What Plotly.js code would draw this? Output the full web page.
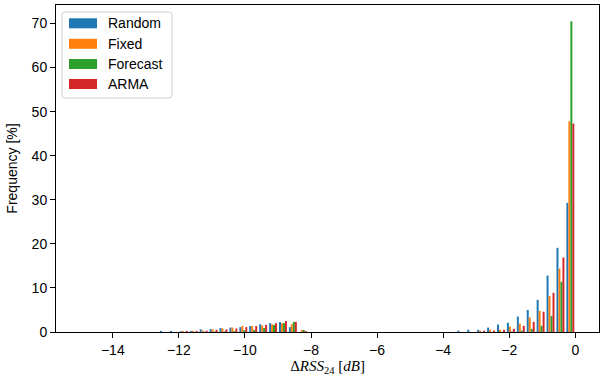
<!DOCTYPE html>
<html>
<head>
<meta charset="utf-8">
<script src="https://cdn.plot.ly/plotly-3.0.1.min.js"></script>
<style>html,body{margin:0;padding:0;background:#fff;}#chart{width:602px;height:376px;}</style>
</head>
<body>
<div id="chart"></div>
<script>
// Bin centres (dB), 0.3 dB bins from -15 to 0
const binCenters = [-14.85,-14.55,-14.25,-13.95,-13.65,-13.35,-13.05,-12.75,-12.45,-12.15,
  -11.85,-11.55,-11.25,-10.95,-10.65,-10.35,-10.05,-9.75,-9.45,-9.15,
  -8.85,-8.55,-8.25,-7.95,-7.65,-7.35,-7.05,-6.75,-6.45,-6.15,
  -5.85,-5.55,-5.25,-4.95,-4.65,-4.35,-4.05,-3.75,-3.45,-3.15,
  -2.85,-2.55,-2.25,-1.95,-1.65,-1.35,-1.05,-0.75,-0.45,-0.15];

const seriesNames = ["Random","Fixed","Forecast","ARMA"];

const randomVals = [0,0,0,0,0,0,0,0,0.25,0.25,
  0.15,0.25,0.6,0.65,0.9,1.0,1.1,1.35,1.75,2.0,
  2.25,1.1,0,0,0,0,0,0,0,0,
  0,0,0,0,0,0,0,0,0.3,0.5,
  0.5,1.0,1.7,2.1,3.5,5.0,7.3,12.8,19.1,29.3];

const fixedVals = [0,0,0,0,0,0,0,0,0,0,
  0.25,0.25,0.35,0.6,0.8,1.0,1.35,1.35,1.5,1.75,
  2.0,1.8,0.45,0,0,0,0,0,0,0,
  0,0,0,0,0,0,0,0,0,0,
  0.3,0.5,0.5,1.2,1.9,3.3,4.8,8.2,14.4,47.8];

const forecastVals = [0,0,0,0,0,0,0,0,0,0,
  0,0.05,0.05,0.1,0.15,0.2,0.4,0.45,0.9,1.6,
  2.0,2.3,0.45,0,0,0,0,0,0,0,
  0,0,0,0,0,0,0,0,0,0,
  0,0,0.05,0.1,0.3,0.7,1.4,3.6,11.4,70.5];

const armaVals = [0,0,0,0,0,0,0,0,0,0,
  0.25,0.25,0.3,0.5,0.6,0.8,1.1,1.35,1.6,2.0,
  2.5,2.3,0.2,0,0,0,0,0,0,0,
  0,0,0,0,0,0,0,0,0,0,
  0.3,0.3,0.5,0.7,1.4,2.3,4.6,8.9,16.9,47.3];

const xTicks = [-14,-12,-10,-8,-6,-4,-2,0];
const yTicks = [0,10,20,30,40,50,60,70];

const colors = ["#1f77b4","#ff7f0e","#2ca02c","#d62728"];
const allVals = [randomVals, fixedVals, forecastVals, armaVals];

const traces = seriesNames.map((n,i)=>({
  type:"bar", name:n, x:binCenters, y:allVals[i],
  marker:{color:colors[i], line:{width:0}}, showlegend:false, hoverinfo:"x+y+name"
}));

// plot area in pixels
const L=56, R=599, T=5, B=332;
const W=602, H=376;
const px=(x)=>(x-L)/(R-L);
const py=(y)=>(B-y)/(B-T);

const shapes=[];
const annotations=[];
// legend frame (rounded)
(function(){
  const x0=px(62), x1=px(172), y0=py(98), y1=py(12);
  const dx=3/(R-L), dy=3/(B-T);
  const p=`M ${x0+dx},${y1} L ${x1-dx},${y1} Q ${x1},${y1} ${x1},${y1-dy} L ${x1},${y0+dy} Q ${x1},${y0} ${x1-dx},${y0} L ${x0+dx},${y0} Q ${x0},${y0} ${x0},${y0+dy} L ${x0},${y1-dy} Q ${x0},${y1} ${x0+dx},${y1} Z`;
  shapes.push({type:"path", xref:"paper", yref:"paper", path:p, fillcolor:"rgba(255,255,255,0.85)", line:{color:"#d0d0d0", width:1}});
})();
const rowY=[23.3,43.8,64,84];
seriesNames.forEach((n,i)=>{
  shapes.push({type:"rect", xref:"paper", yref:"paper", x0:px(69), x1:px(97), y0:py(rowY[i]+5), y1:py(rowY[i]-5), fillcolor:colors[i], line:{width:0}});
  annotations.push({xref:"paper", yref:"paper", x:px(106), y:py(rowY[i]), text:n, showarrow:false, xanchor:"left", yanchor:"middle", font:{family:"Liberation Sans, Arial, sans-serif", size:14, color:"#000"}});
});

const layout={
  width:W, height:H,
  margin:{l:L, r:W-R, t:T, b:H-B, pad:0},
  paper_bgcolor:"#fff", plot_bgcolor:"#fff",
  barmode:"group", bargap:0.2, bargroupgap:0,
  font:{family:"Liberation Sans, Arial, sans-serif", size:14, color:"#000"},
  xaxis:{range:[-15.72,0.717], tickvals:xTicks, ticktext:xTicks.map(v=>v<0?"\u2212"+Math.abs(v):String(v)),
    ticks:"outside", ticklen:5, tickwidth:1, tickcolor:"#000",
    showline:true, linecolor:"#000", linewidth:1, mirror:true, showgrid:false, zeroline:false,
    title:{text:"\u0394<i>RSS</i><sub>24</sub> [<i>dB</i>]", font:{family:"Liberation Serif, Times New Roman, serif", size:15, color:"#000"}, standoff:8}},
  yaxis:{range:[0,74.2], tickvals:yTicks, ticks:"outside", ticklen:5, tickwidth:1, tickcolor:"#000",
    showline:true, linecolor:"#000", linewidth:1, mirror:true, showgrid:false, zeroline:false,
    title:{text:"Frequency [%]", font:{size:14, color:"#000"}, standoff:10}},
  shapes:shapes, annotations:annotations, showlegend:false
};
Plotly.newPlot("chart", traces, layout, {displayModeBar:false, staticPlot:true});
</script>
</body>
</html>
